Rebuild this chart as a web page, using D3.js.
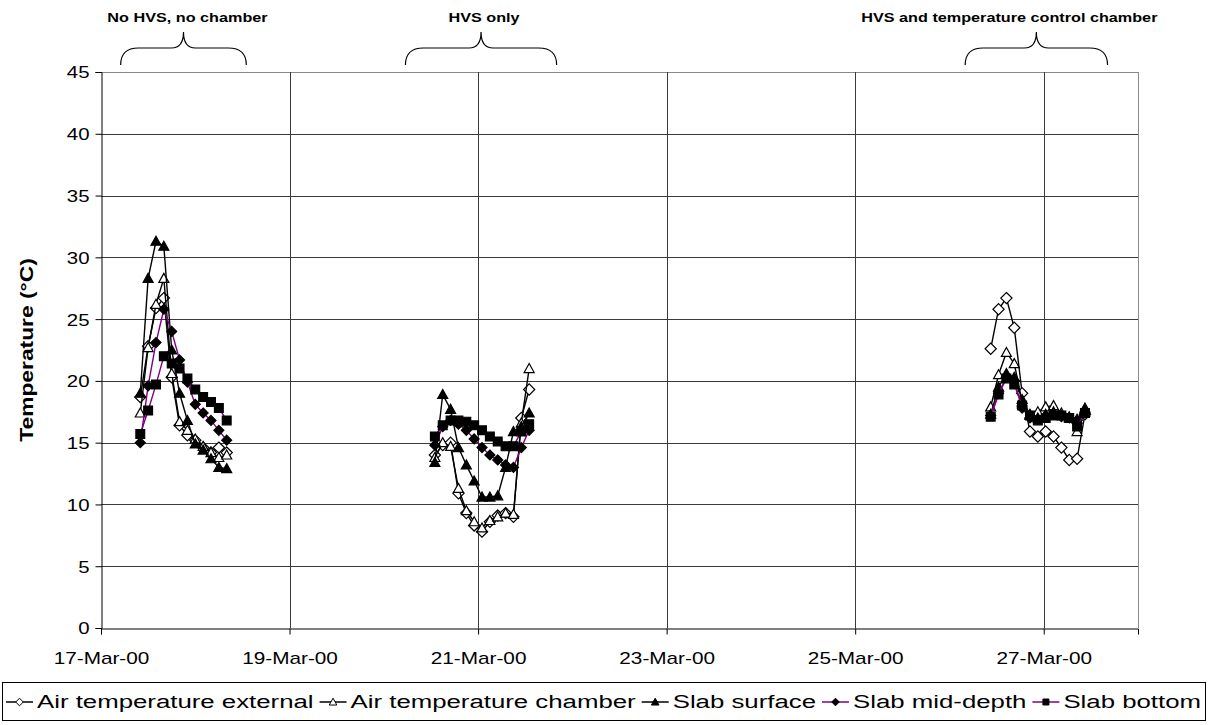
<!DOCTYPE html>
<html><head><meta charset="utf-8">
<script src="https://cdn.jsdelivr.net/npm/d3@7"></script>
<style>
html,body{margin:0;padding:0;background:#fff;}
svg{display:block;font-family:"Liberation Sans",Arial,sans-serif;}
</style></head>
<body>
<svg id="chart" width="1208" height="725"></svg>
<script>
// ---- data ----
const timeLabels = [
  "2000-03-17 10:00","2000-03-17 12:00","2000-03-17 14:00","2000-03-17 16:00","2000-03-17 18:00","2000-03-17 20:00",
  "2000-03-17 22:00","2000-03-18 00:00","2000-03-18 02:00","2000-03-18 04:00","2000-03-18 06:00","2000-03-18 08:00",
  "2000-03-20 13:00","2000-03-20 15:00","2000-03-20 17:00","2000-03-20 19:00","2000-03-20 21:00","2000-03-20 23:00",
  "2000-03-21 01:00","2000-03-21 03:00","2000-03-21 05:00","2000-03-21 07:00","2000-03-21 09:00","2000-03-21 11:00","2000-03-21 13:00",
  "2000-03-26 10:30","2000-03-26 12:30","2000-03-26 14:30","2000-03-26 16:30","2000-03-26 18:30","2000-03-26 20:30",
  "2000-03-26 22:30","2000-03-27 00:30","2000-03-27 02:30","2000-03-27 04:30","2000-03-27 06:30","2000-03-27 08:30","2000-03-27 10:30"
];
const airExternal = [
  18.7,22.8,25.9,26.7,20.3,16.4,15.6,15.2,14.6,14.2,14.6,14.2,
  14.0,14.8,15.0,10.9,9.3,8.3,7.8,8.6,9.1,9.3,9.0,17.0,19.3,
  22.6,25.8,26.7,24.3,19.0,15.9,15.5,15.9,15.5,14.6,13.6,13.7,17.3
];
const airChamber = [
  17.4,22.7,26.2,28.3,20.6,16.7,16.0,15.3,14.7,14.2,13.8,14.0,
  13.8,15.0,14.7,11.3,9.5,8.6,8.1,8.7,9.0,9.3,9.2,16.6,21.0,
  17.9,20.5,22.3,21.4,18.3,17.2,17.5,17.9,18.0,17.4,17.1,15.9,17.5
];
const slabSurface = [
  19.0,28.3,31.3,30.9,22.5,19.0,16.8,14.9,14.4,13.7,13.0,12.9,
  13.4,18.9,17.7,14.6,13.2,11.9,10.6,10.6,10.7,13.0,15.9,16.3,17.4,
  17.3,19.5,20.6,20.3,18.5,17.3,17.0,17.3,17.5,17.2,17.0,16.9,17.8
];
const slabMid = [
  15.0,19.6,23.1,25.8,24.0,21.7,19.9,18.1,17.4,16.8,16.0,15.2,
  14.8,16.3,16.8,16.5,16.0,15.3,14.6,14.0,13.6,13.2,13.0,14.6,16.0,
  17.2,19.0,20.3,20.0,17.8,17.0,16.9,17.1,17.3,17.1,17.0,16.8,17.4
];
const slabBottom = [
  15.7,17.6,19.7,22.0,21.4,21.0,20.2,19.3,18.7,18.3,17.8,16.8,
  15.5,16.4,16.8,16.8,16.7,16.4,16.0,15.5,15.1,14.7,14.7,15.9,16.5,
  17.1,18.9,20.2,19.7,18.0,17.2,16.8,17.0,17.2,17.2,17.0,16.3,17.4
];
const seriesNames = ["Air temperature external","Air temperature chamber","Slab surface","Slab mid-depth","Slab bottom"];
const yTicks = [0,5,10,15,20,25,30,35,40,45];
const xTickLabels = ["2000-03-17","2000-03-19","2000-03-21","2000-03-23","2000-03-25","2000-03-27"];
const annotationTexts = ["No HVS, no chamber","HVS only","HVS and temperature control chamber"];
const annotationFrom = ["2000-03-17 05:00","2000-03-20 05:30","2000-03-26 04:00"];
const annotationTo = ["2000-03-18 13:00","2000-03-21 20:00","2000-03-27 16:15"];

// ---- setup ----
const svg = d3.select("#chart");
const parseT = d3.timeParse("%Y-%m-%d %H:%M");
const parseD = d3.timeParse("%Y-%m-%d");
const times = timeLabels.map(parseT);
const L = 101, R = 1138, T = 72, B = 628;
const x = d3.scaleTime().domain([parseD("2000-03-17"), parseD("2000-03-28")]).range([L, R]);
const y = d3.scaleLinear().domain([0,45]).range([B, T]);

function stretch(sel, k){
  sel.each(function(){
    const w = this.getComputedTextLength();
    d3.select(this).attr("textLength", w*k).attr("lengthAdjust","spacingAndGlyphs");
  });
}

// gridlines
const gGrid = svg.append("g");
gGrid.selectAll("line.h").data(yTicks.filter(v=>v>0)).enter().append("line")
  .attr("x1",L).attr("x2",R).attr("y1",d=>Math.round(y(d))+0.5).attr("y2",d=>Math.round(y(d))+0.5)
  .attr("stroke",d=>d===45?"#8a8a8a":"#3a3a3a").attr("stroke-width",1);
const xTicks = xTickLabels.map(parseD);
gGrid.selectAll("line.v").data(xTicks.slice(1)).enter().append("line")
  .attr("y1",T).attr("y2",B).attr("x1",d=>Math.round(x(d))+0.5).attr("x2",d=>Math.round(x(d))+0.5)
  .attr("stroke","#3a3a3a").attr("stroke-width",1);
gGrid.append("line").attr("x1",R+0.5).attr("x2",R+0.5).attr("y1",T).attr("y2",B)
  .attr("stroke","#8a8a8a");

// axes
const yAxis = d3.axisLeft(y).tickValues(yTicks).tickSize(6).tickPadding(6).tickFormat(d3.format("d"));
const gy = svg.append("g").attr("transform",`translate(${L+0.5},0)`).call(yAxis);
const xAxis = d3.axisBottom(x).tickValues(xTicks).tickSize(6).tickPadding(17).tickFormat(d3.timeFormat("%d-%b-%y"));
const gx = svg.append("g").attr("transform",`translate(0,${B+0.5})`).call(xAxis);
[gx,gy].forEach(g=>{
  g.select(".domain").attr("stroke","#000");
  g.selectAll(".tick line").attr("stroke","#000");
  g.selectAll(".tick text").attr("fill","#000").style("font-size","17px")
   .style("font-family","'Liberation Sans',Arial,sans-serif");
});
gy.selectAll(".tick text").attr("dy","0.35em");
stretch(gx.selectAll(".tick text"), 1.22);
stretch(gy.selectAll(".tick text"), 1.2);

// y title
const yt = svg.append("text").attr("transform",`translate(33,${(T+B)/2}) rotate(-90)`)
  .attr("text-anchor","middle").style("font-size","19px").style("font-weight","bold")
  .text("Temperature (°C)");
stretch(yt, 1.2);

// ---- series ----
const sym = {
  diamond: (s)=>`M0,${-s}L${s},0L0,${s}L${-s},0Z`,
  triangle: (s)=>`M0,${-s}L${s},${s*0.8}L${-s},${s*0.8}Z`,
  square: (s)=>`M${-s},${-s}H${s}V${s}H${-s}Z`
};
const series = [
  {name:seriesNames[0], vals:airExternal, line:"#000", shape:"diamond", size:5.6, fill:"#fff"},
  {name:seriesNames[1], vals:airChamber, line:"#000", shape:"triangle", size:5, fill:"#fff"},
  {name:seriesNames[2], vals:slabSurface, line:"#000", shape:"triangle", size:5, fill:"#000"},
  {name:seriesNames[3], vals:slabMid, line:"#800080", shape:"diamond", size:5, fill:"#000"},
  {name:seriesNames[4], vals:slabBottom, line:"#800080", shape:"square", size:4.4, fill:"#000"}
];
function segments(vals){
  const segs=[]; let cur=[];
  vals.forEach((v,i)=>{
    if(i>0 && (times[i]-times[i-1]) > 6*3600*1000){ segs.push(cur); cur=[]; }
    cur.push({t:times[i], v});
  });
  segs.push(cur);
  return segs;
}
const lineGen = d3.line().x(d=>x(d.t)).y(d=>y(d.v));
series.forEach(s=>{
  const g = svg.append("g");
  segments(s.vals).forEach(seg=>{
    g.append("path").attr("d",lineGen(seg)).attr("fill","none").attr("stroke",s.line).attr("stroke-width",1.4);
  });
  g.selectAll("path.m").data(s.vals.map((v,i)=>({t:times[i],v}))).enter().append("path")
    .attr("d",sym[s.shape](s.size)).attr("transform",d=>`translate(${x(d.t)},${y(d.v)})`)
    .attr("fill",s.fill).attr("stroke","#000").attr("stroke-width",1.2);
});

// ---- annotations with braces ----
const annotationTextShift = [4, 3, -27];
annotationTexts.forEach((txt,i)=>{
  const x0 = x(parseT(annotationFrom[i])), x1 = x(parseT(annotationTo[i])), xm = (x0+x1)/2;
  const yb = 65, yh = 48, yt2 = 32;
  svg.append("path").attr("d",
    `M${x0},${yb} Q${x0},${yh} ${x0+18},${yh} L${xm-12},${yh} Q${xm},${yh} ${xm},${yt2} Q${xm},${yh} ${xm+12},${yh} L${x1-18},${yh} Q${x1},${yh} ${x1},${yb}`)
    .attr("fill","none").attr("stroke","#000").attr("stroke-width",1.2);
  const t = svg.append("text").attr("x",xm+annotationTextShift[i]).attr("y",22).attr("text-anchor","middle")
    .style("font-size","13.5px").style("font-weight","bold").text(txt);
  stretch(t, 1.2);
});

// ---- legend ----
const lg = svg.append("g");
const boxX=2, boxY=682, boxW=1203, boxH=38;
lg.append("rect").attr("x",boxX+0.5).attr("y",boxY+0.5).attr("width",boxW).attr("height",boxH)
  .attr("fill","#fff").attr("stroke","#000");
const items = series.map(s=>{
  const gi = lg.append("g");
  const txt = gi.append("text").attr("y",boxY+boxH/2+1).attr("dy","0.35em").style("font-size","18px").text(s.name);
  return {s, gi, txt, w: txt.node().getComputedTextLength()};
});
const lineW=27, gapT=4, gapI=6, margin=4;
const natural = d3.sum(items, it=>it.w);
const k = (boxW - 2*margin - items.length*(lineW+gapT) - (items.length-1)*gapI)/natural;
let cx = boxX+margin;
items.forEach(it=>{
  const yy = boxY+boxH/2+1;
  it.gi.append("line").attr("x1",cx).attr("x2",cx+lineW).attr("y1",yy).attr("y2",yy)
    .attr("stroke",it.s.line).attr("stroke-width",1.5);
  it.gi.append("path").attr("d",sym[it.s.shape](it.s.shape==="square"?3:3.8))
    .attr("transform",`translate(${cx+lineW/2},${yy})`).attr("fill",it.s.fill).attr("stroke","#000").attr("stroke-width",1);
  it.txt.attr("x",cx+lineW+gapT).attr("textLength",it.w*k).attr("lengthAdjust","spacingAndGlyphs");
  cx += lineW+gapT+it.w*k+gapI;
});
</script>
</body></html>
